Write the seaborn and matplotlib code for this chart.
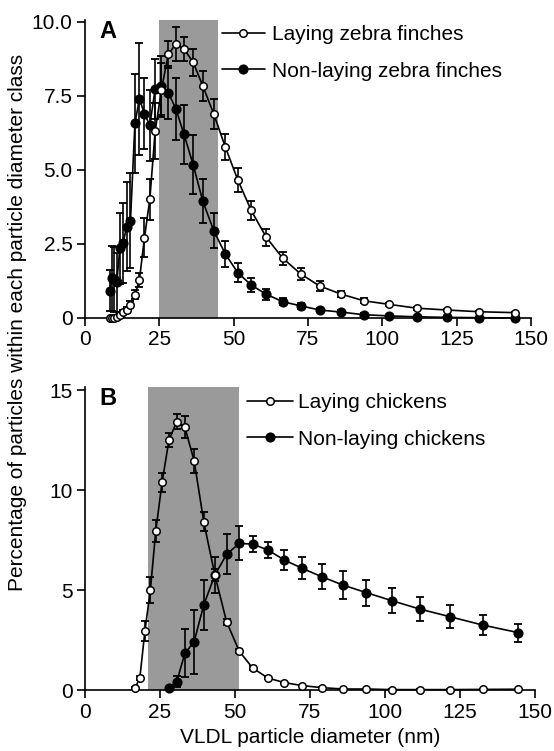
import numpy as np
import pandas as pd
import matplotlib
matplotlib.use("Agg")
import matplotlib.pyplot as plt
import seaborn as sns

# ---- data (particle diameter classes, nm) ----
finch_diam = [8.3, 9.0, 9.8, 10.7, 11.7, 12.8, 14.0, 15.3, 16.8, 18.3, 20.0, 21.8,
              23.6, 25.7, 28.0, 30.6, 33.3, 36.4, 39.6, 43.3, 47.2, 51.4, 55.9,
              61.0, 66.5, 72.5, 78.9, 86.0, 93.8, 102.3, 111.6, 121.6, 132.6, 144.5]

finch_laying = [0.0, 0.0, 0.0, 0.02, 0.1, 0.2, 0.27, 0.45, 0.78, 1.28, 2.71, 4.0,
                6.3, 7.7, 8.9, 9.25, 9.08, 8.63, 7.84, 6.89, 5.77, 4.66, 3.63,
                2.72, 2.02, 1.49, 1.08, 0.81, 0.58, 0.46, 0.33, 0.27, 0.21, 0.18]
finch_laying_sem = [0.0, 0.0, 0.0, 0.02, 0.05, 0.08, 0.1, 0.12, 0.15, 0.24, 0.65, 0.7,
                    0.95, 0.9, 0.45, 0.56, 0.4, 0.45, 0.5, 0.5, 0.45, 0.4, 0.32,
                    0.3, 0.22, 0.2, 0.17, 0.1, 0.08, 0.06, 0.05, 0.04, 0.03, 0.03]

finch_nonlaying = [0.92, 1.34, 1.3, 1.2, 2.35, 2.52, 3.08, 3.28, 6.58, 7.39, 6.9, 6.5,
                   7.73, 7.84, 7.61, 7.05, 6.2, 5.17, 3.95, 2.95, 2.16, 1.53, 1.11,
                   0.8, 0.55, 0.41, 0.27, 0.2, 0.11, 0.07, 0.04, 0.02, 0.01, 0.0]
finch_nonlaying_sem = [0.7, 1.1, 1.1, 1.0, 1.2, 1.35, 1.5, 1.6, 1.67, 1.9, 1.2, 1.2,
                       1.0, 1.0, 0.9, 1.05, 1.0, 1.0, 0.75, 0.6, 0.45, 0.33, 0.25,
                       0.18, 0.12, 0.1, 0.08, 0.06, 0.05, 0.04, 0.03, 0.02, 0.02, 0.01]

chick_laying_diam = [16.8, 18.3, 20.0, 21.8, 23.6, 25.7, 28.0, 30.6, 33.3, 36.4, 39.6,
                     43.3, 47.2, 51.4, 55.9, 61.0, 66.5, 72.5, 78.9, 86.0, 93.8,
                     102.3, 111.6, 121.6, 132.6, 144.5]
chick_laying = [0.12, 0.62, 2.97, 5.0, 7.95, 10.38, 12.5, 13.42, 13.13, 11.47, 8.42,
                5.75, 3.42, 1.95, 1.1, 0.6, 0.37, 0.22, 0.12, 0.05, 0.05,
                0.02, 0.02, 0.02, 0.03, 0.04]
chick_laying_sem = [0.05, 0.1, 0.5, 0.65, 0.55, 0.48, 0.33, 0.38, 0.55, 0.6, 0.48,
                    0.3, 0.15, 0.1, 0.08, 0.05, 0.04, 0.03, 0.02, 0.02, 0.02,
                    0.01, 0.01, 0.01, 0.01, 0.01]

chick_nonlaying_diam = [28.0, 30.6, 33.3, 36.4, 39.6, 43.3, 47.2, 51.4, 55.9, 61.0,
                        66.5, 72.5, 78.9, 86.0, 93.8, 102.3, 111.6, 121.6, 132.6, 144.5]
chick_nonlaying = [0.08, 0.42, 1.83, 2.42, 4.25, 5.75, 6.78, 7.33, 7.3, 7.0,
                   6.5, 6.08, 5.67, 5.25, 4.87, 4.47, 4.05, 3.67, 3.25, 2.87]
chick_nonlaying_sem = [0.05, 0.28, 1.2, 1.6, 1.25, 0.9, 1.0, 0.85, 0.38, 0.38,
                       0.48, 0.55, 0.63, 0.68, 0.65, 0.63, 0.62, 0.56, 0.5, 0.45]

x_ticks = [0, 25, 50, 75, 100, 125, 150]
a_yticks = [0, 2.5, 5.0, 7.5, 10.0]
a_ylabels = ["0", "2.5", "5.0", "7.5", "10.0"]
b_yticks = [0, 5, 10, 15]
b_ylabels = ["0", "5", "10", "15"]

# shaded diameter windows
a_shade = (25, 44.7)
b_shade = (21, 51.2)

sns.set_style("ticks")
plt.rcParams['font.family'] = ['Liberation Sans', 'DejaVu Sans']
plt.rcParams['font.size'] = 15
plt.rcParams['text.color'] = 'black'
plt.rcParams['axes.labelcolor'] = 'black'
plt.rcParams['xtick.color'] = 'black'
plt.rcParams['ytick.color'] = 'black'
plt.rcParams['axes.edgecolor'] = 'black'

FS = 15


def draw_series(ax, x, y, err, label, filled):
    df = pd.DataFrame({"diameter": x, "pct": y})
    ax.errorbar(x, y, yerr=err, fmt='none', ecolor='black', elinewidth=1.2,
                capsize=3.2, capthick=1.3, zorder=3 if filled else 4, clip_on=False)
    sns.lineplot(data=df, x="diameter", y="pct", ax=ax, color='black', lw=1.2,
                 marker='o', markersize=6.2 if filled else 5.4,
                 markerfacecolor='black' if filled else 'white',
                 markeredgecolor='black', markeredgewidth=1.1,
                 label=label, zorder=5 if filled else 6, clip_on=False)


def style_axis(ax, ylim, yticks, ylabels, shade):
    ax.axvspan(shade[0], shade[1], color='#9a9a9a', lw=0, zorder=0)
    ax.set_xlim(0, 150)
    ax.set_ylim(*ylim)
    ax.set_xticks(x_ticks)
    ax.set_xticklabels([str(t) for t in x_ticks], fontsize=FS, color='black')
    ax.set_yticks(yticks)
    ax.set_yticklabels(ylabels, fontsize=FS, color='black')
    ax.tick_params(direction='out', length=6, width=1.2, pad=3, colors='black')
    for side in ['top', 'right']:
        ax.spines[side].set_visible(False)
    for side in ['left', 'bottom']:
        ax.spines[side].set_linewidth(1.2)
        ax.spines[side].set_color('black')
    ax.set_ylabel("")
    ax.set_xlabel("")


fig = plt.figure(figsize=(5.54, 7.51), dpi=100)
axA = fig.add_axes([0.1534, 0.5766, 0.805, 0.3968])
axB = fig.add_axes([0.1534, 0.0812, 0.812, 0.4039])

draw_series(axA, finch_diam, finch_nonlaying, finch_nonlaying_sem, "Non-laying zebra finches", True)
draw_series(axA, finch_diam, finch_laying, finch_laying_sem, "Laying zebra finches", False)
style_axis(axA, (0, 10.06), a_yticks, a_ylabels, a_shade)

draw_series(axB, chick_nonlaying_diam, chick_nonlaying, chick_nonlaying_sem, "Non-laying chickens", True)
draw_series(axB, chick_laying_diam, chick_laying, chick_laying_sem, "Laying chickens", False)
style_axis(axB, (0, 15.17), b_yticks, b_ylabels, b_shade)

# legends: laying first, as in the original
for ax, anchor, hlen, pad in [(axA, (0.307, 0.89), 2.05, 0.35), (axB, (0.36, 0.888), 2.2, 0.25)]:
    h, l = ax.get_legend_handles_labels()
    leg = ax.legend(h[::-1], l[::-1], loc='center left', bbox_to_anchor=anchor, frameon=False,
                    fontsize=FS, handlelength=hlen, handletextpad=pad, labelspacing=0.85,
                    borderpad=0, borderaxespad=0, numpoints=1)
    for t in leg.get_texts():
        t.set_color('black')

axA.text(0.033, 1.0, "A", transform=axA.transAxes, fontsize=17, fontweight='bold',
         ha='left', va='top', color='black')
axB.text(0.031, 1.0, "B", transform=axB.transAxes, fontsize=17, fontweight='bold',
         ha='left', va='top', color='black')

axB.set_xlabel("VLDL particle diameter (nm)", fontsize=FS, labelpad=5, color='black')
fig.text(0.032, 1 - 322 / 751, "Percentage of particles within each particle diameter class",
         rotation=90, ha='center', va='center', fontsize=FS, color='black')

fig.savefig("out.png", dpi=100)
